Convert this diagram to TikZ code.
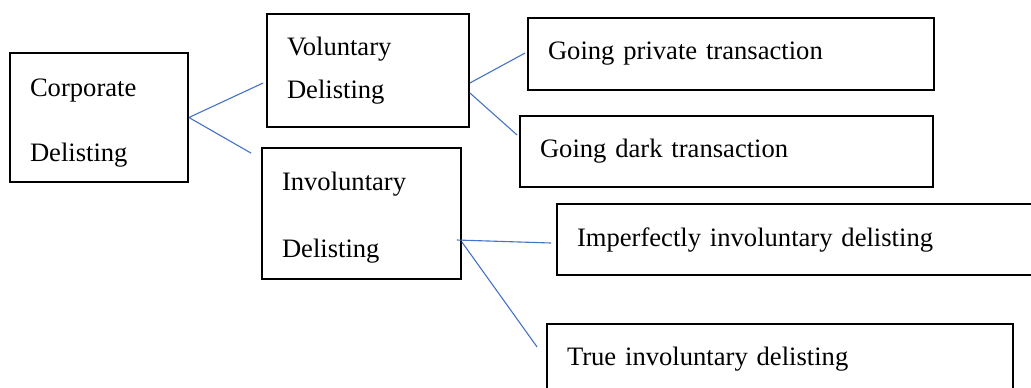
\documentclass[tikz,border=0pt]{standalone}
\usepackage{fontspec}
\setmainfont{Liberation Serif}
\usepackage{tikz}
\usetikzlibrary{calc, positioning}
\definecolor{linkblue}{HTML}{4472C4}

\begin{document}
\begin{tikzpicture}[x=0.5pt, y=-0.5pt,
        box/.style={draw, line width=0.9pt, inner xsep=10pt, inner ysep=0pt, align=left,
            font=\fontsize{13.3}{16}\selectfont},
        link/.style={draw=linkblue, line width=0.55pt}]
                        \clip (0, 0) rectangle (1031, 387);

                        \node[box, minimum width=89pt, minimum height=64.5pt, text width=69pt] (cd) at (99, 117.5) {\rule{0pt}{14pt}Corporate \\[16.5pt] Delisting};

                        \node[box, minimum width=101pt, minimum height=56.5pt, text width=81pt] (vd) at (368, 70.5) {Voluntary \\[5.5pt] Delisting};
                        \node[box, minimum width=99.5pt, minimum height=65.5pt, text width=79.5pt] (id) at (361.5, 213.5) {\rule{0pt}{13pt}Involuntary \\[17.5pt] Delisting};

                        \node[box, minimum width=203pt, minimum height=36pt, text width=183pt] (gpt) at (731, 54) {Going private transaction};
                        \node[box, minimum width=206.5pt, minimum height=35.5pt, text width=186.5pt] (gdt) at (726.5, 151.5) {Going dark transaction};

                        \node[box, minimum width=250pt, minimum height=35.5pt, text width=230pt] (iid) at (807, 239.5) {Imperfectly involuntary delisting};
                        \node[box, minimum width=233pt, minimum height=35.5pt, text width=213pt] (tid) at (780, 359.5) {True involuntary delisting};

                        \draw[link]
                        (cd.east) -- ($(vd.west) + (-3, 12.5)$)
                        (cd.east) -- ($(id.north west) + (-10, 6)$)

                        ($(vd.east) + (0, 12.5)$) -- ($(gpt.west) + (-2, -1)$)
                        ($(vd.east) + (0, 22.5)$) -- ($(gdt.west) + (-2, -16.5)$)

                        ($(id.east) + (-5, 26.5)$) -- ($(iid.west) + (-5, 3.5)$)
                        ($(id.east) + (0, 28.5)$) -- ($(tid.west) + (-9, -12.5)$);
                    \end{tikzpicture}
\end{document}
